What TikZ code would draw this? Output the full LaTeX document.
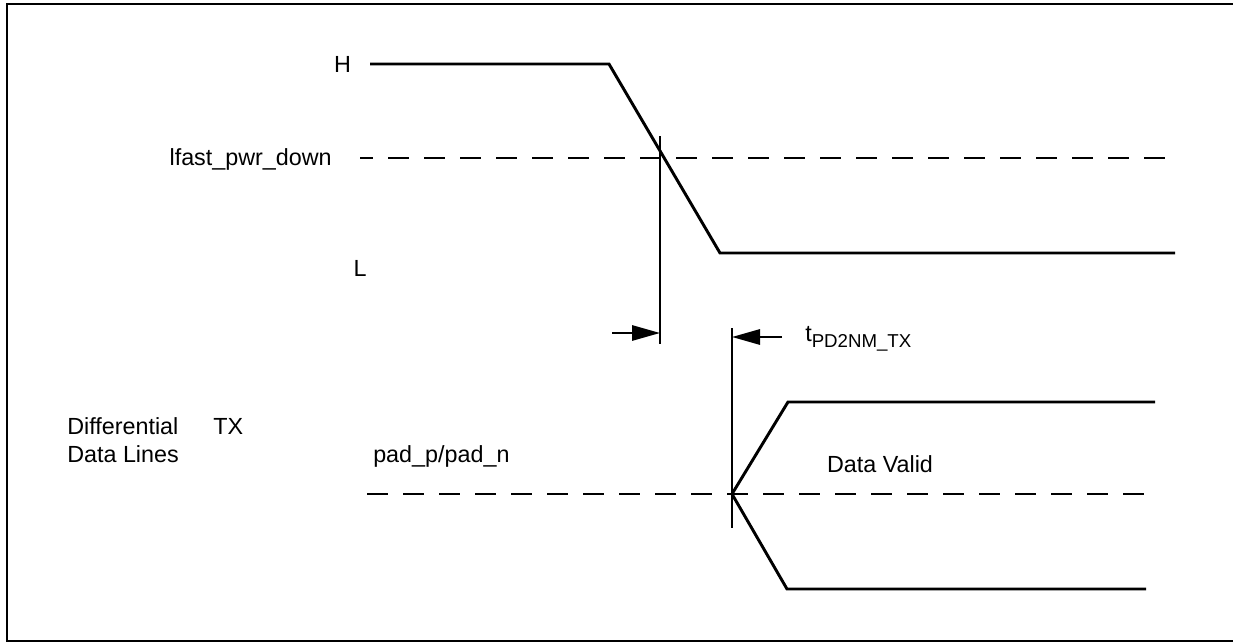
\documentclass[tikz,border=0pt]{standalone}
\usepackage{fontspec}
\setmainfont{Liberation Sans}
\usetikzlibrary{arrows.meta, positioning}

\newcommand{\sublabel}[1]{\raisebox{-5pt}{\fontsize{14}{16}\selectfont #1}}

\begin{document}
\begin{tikzpicture}[
    x=0.75pt, y=-0.75pt,
    wave/.style={line width=2.2pt, line join=miter},
    level/.style={line width=2.2pt, dash pattern=on 15.75pt off 11.25pt},
    marker/.style={line width=1.5pt},
    dimarrow/.style={line width=1.5pt, -{Triangle[length=21pt, width=11.5pt]}},
    label/.style={inner sep=0pt, font=\fontsize{17.5}{21}\selectfont},
    frame/.style={line width=1.5pt}
]
\useasboundingbox (0,0) rectangle (1233,643);

% Outer frame (open on the right side)
\draw[frame] (1240,4) -| (7,641) -- (1240,641);

% Power-down signal
\coordinate (hstart) at (370,64);
\coordinate (hend)   at (609,64);
\coordinate (lstart) at (720,253);
\coordinate (lend)   at (1175,253);
\draw[wave] (hstart) -- (hend) -- (lstart) -- (lend);
\draw[level, dash phase=6pt] (360,158) coordinate (pwrthr) -- (1172,158) coordinate (pwrthrend);

\node[label, anchor=base] (hlabel) at (342.5,72) {H};
\node[label, anchor=base] (llabel) at (360,276) {L};
\node[label, anchor=base east] (pwrlabel) at (332,165) {lfast\_pwr\_down};

% Timing markers
\coordinate (mark1top) at (660,136);
\coordinate (mark1bot) at (660,344);
\draw[marker] (mark1top) -- (mark1bot);
\coordinate (mark2top) at (732,328);
\coordinate (mark2bot) at (732,528);
\draw[marker] (mark2top) -- (mark2bot);

\coordinate (arr1from) at (612,333);
\coordinate (arr1to)   at (660,333);
\draw[dimarrow] (arr1from) -- (arr1to);
\coordinate (arr2from) at (782,337);
\coordinate (arr2to)   at (732,337);
\draw[dimarrow] (arr2from) -- (arr2to);
\node[label, anchor=base west] (tlabel) at (805,341) {t\sublabel{PD2NM\_TX}};

% Differential data lines
\coordinate (cross)   at (732,494);
\coordinate (upstart) at (788,402);
\coordinate (upend)   at (1155,402);
\coordinate (lostart) at (787,589);
\coordinate (loend)   at (1146,589);
\draw[wave] (cross) -- (upstart) -- (upend);
\draw[wave] (cross) -- (lostart) -- (loend);
\draw[level] (367,494) coordinate (datathr) -- (1145,494) coordinate (datathrend);

\node[label, anchor=base west] (difflabel) at (67,434) {Differential};
\node[label, anchor=base west] (txlabel)   at (213,434) {TX};
\node[label, anchor=base west] (lineslabel) at (67,462) {Data Lines};
\node[label, anchor=base west] (padlabel)  at (373,462) {pad\_p/pad\_n};
\node[label, anchor=base] (validlabel) at (880,472) {Data Valid};

\end{tikzpicture}
\end{document}
